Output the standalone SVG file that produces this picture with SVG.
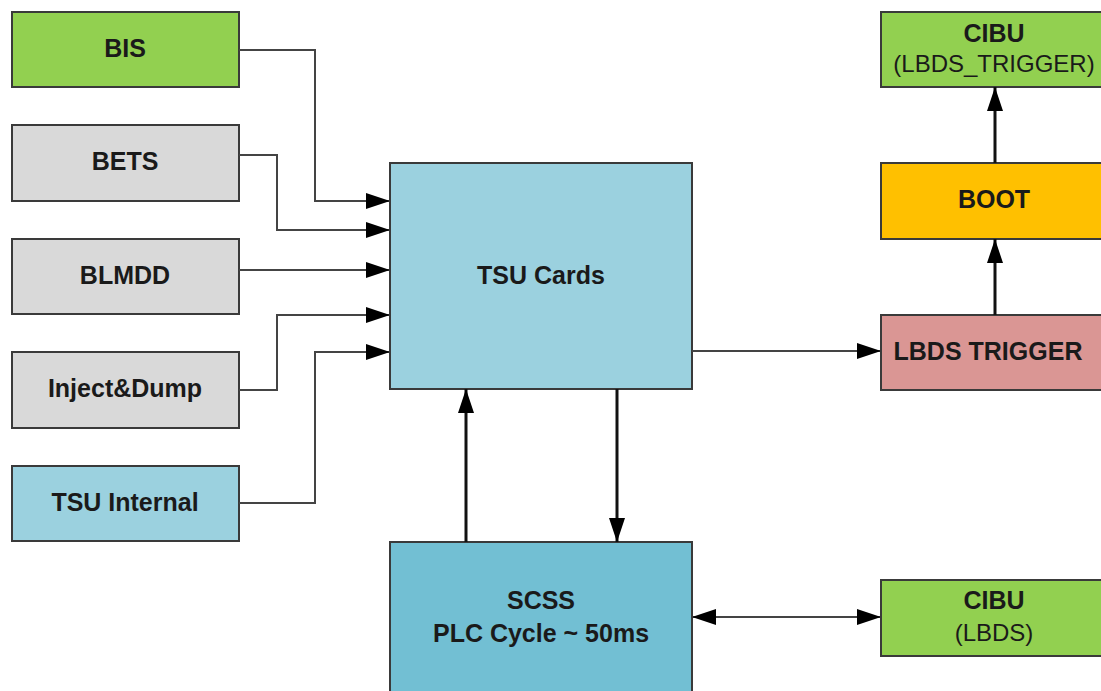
<svg xmlns="http://www.w3.org/2000/svg" width="1101" height="691" viewBox="0 0 1101 691">
<style>
.box{stroke:#3a3a3a;stroke-width:2}
.t{font-family:"Liberation Sans",Arial,sans-serif;font-weight:bold;font-size:25px;fill:#1a1a1a;text-anchor:middle}
.s{font-family:"Liberation Sans",Arial,sans-serif;font-size:24px;fill:#1a1a1a;text-anchor:middle}
.c{fill:none;stroke:#444;stroke-width:2}
.k{fill:none;stroke:#111;stroke-width:3}
</style>
<defs>
<marker id="a" viewBox="0 0 24 16" refX="24" refY="8" markerWidth="24" markerHeight="16" markerUnits="userSpaceOnUse" orient="auto-start-reverse">
<path d="M0,0 L24,8 L0,16 Z" fill="#000"/>
</marker>
</defs>
<rect width="1101" height="691" fill="#fff"/>
<g id="BIS"><rect class="box" x="12" y="12" width="227" height="75" fill="#92d050"/><text class="t" x="125" y="57">BIS</text></g>
<g id="BETS"><rect class="box" x="12" y="125" width="227" height="76" fill="#d9d9d9"/><text class="t" x="125" y="170">BETS</text></g>
<g id="BLMDD"><rect class="box" x="12" y="239" width="227" height="75" fill="#d9d9d9"/><text class="t" x="125" y="284">BLMDD</text></g>
<g id="InjectDump"><rect class="box" x="12" y="352" width="227" height="76" fill="#d9d9d9"/><text class="t" x="125" y="397">Inject&amp;Dump</text></g>
<g id="TSUInternal"><rect class="box" x="12" y="466" width="227" height="75" fill="#9bd1df"/><text class="t" x="125" y="511">TSU Internal</text></g>
<g id="TSUCards"><rect class="box" x="390" y="163" width="302" height="226" fill="#9bd1df"/><text class="t" x="541" y="284">TSU Cards</text></g>
<g id="SCSS"><rect class="box" x="390" y="542" width="302" height="160" fill="#72bfd3"/><text class="t" x="541" y="609">SCSS</text><text class="t" x="541" y="642">PLC Cycle ~ 50ms</text></g>
<g id="CIBU_TRIG"><rect class="box" x="881" y="12" width="230" height="75" fill="#92d050"/><text class="t" x="994" y="42">CIBU</text><text class="s" x="994" y="72">(LBDS_TRIGGER)</text></g>
<g id="BOOT"><rect class="box" x="881" y="163" width="230" height="76" fill="#ffc000"/><text class="t" x="994" y="208">BOOT</text></g>
<g id="LBDSTRIGGER"><rect class="box" x="881" y="315" width="230" height="75" fill="#da9694"/><text class="t" x="988" y="360">LBDS TRIGGER</text></g>
<g id="CIBU_LBDS"><rect class="box" x="881" y="580" width="230" height="76" fill="#92d050"/><text class="t" x="994" y="609">CIBU</text><text class="s" x="994" y="641">(LBDS)</text></g>
<g id="connectors">
<path class="c" d="M239,50 H315 V201 H390" marker-end="url(#a)"/>
<path class="c" d="M239,155 H277 V230 H390" marker-end="url(#a)"/>
<path class="c" d="M239,270 H390" marker-end="url(#a)"/>
<path class="c" d="M239,390 H277 V315 H390" marker-end="url(#a)"/>
<path class="c" d="M239,503 H315 V352 H390" marker-end="url(#a)"/>
<path class="c" d="M692,351 H881" marker-end="url(#a)"/>
<path class="k" d="M995,315 V239" marker-end="url(#a)"/>
<path class="k" d="M995,163 V87" marker-end="url(#a)"/>
<path class="k" d="M466,542 V389" marker-end="url(#a)"/>
<path class="k" d="M617,389 V542" marker-end="url(#a)"/>
<path class="c" d="M692,617 H881" marker-start="url(#a)" marker-end="url(#a)"/>
</g>
</svg>
